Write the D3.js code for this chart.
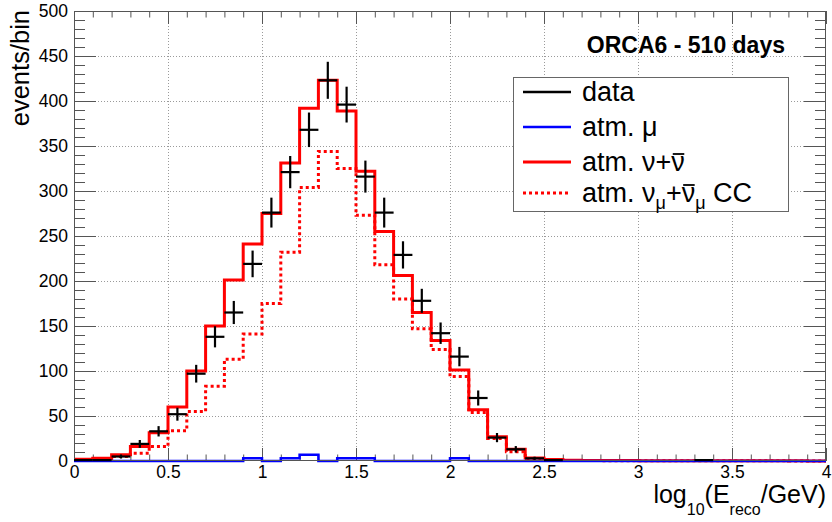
<!DOCTYPE html>
<html><head><meta charset="utf-8">
<script src="https://cdn.jsdelivr.net/npm/d3@7/dist/d3.min.js"></script>
<style>
body{margin:0;background:#fff}
text{font-family:"Liberation Sans",Arial,Helvetica,sans-serif}
</style>
</head><body>
<svg id="c" width="832" height="522"></svg>
<script>
// ---- data ----
const binEdges = [0,0.1,0.2,0.3,0.4,0.5,0.6,0.7,0.8,0.9,1.0,1.1,1.2,1.3,1.4,1.5,1.6,1.7,1.8,1.9,2.0,
  2.1,2.2,2.3,2.4,2.5,2.6,2.7,2.8,2.9,3.0,3.1,3.2,3.3,3.4,3.5,3.6,3.7,3.8,3.9,4.0];
const nuTotal = [2,3,7,16,31.5,60,100,150,201,241,275,331,392,423,389,322,255,206,165,134,101,57,27,13,3.3,1.7,
  0.8,0.6,0.5,0.5,0.4,0.4,0.3,0.3,0.3,0.2,0.2,0.2,0.2,0.1];
const numuCC = [1.5,2,5,8.5,16,33.7,55,83,113,141,175,232,304,344,325,273,218,180,147,124,94,54,25,10.4,2.6,1,
  0.6,0.5,0.4,0.4,0.3,0.3,0.3,0.2,0.2,0.2,0.2,0.2,0.1,0.1];
const atmMu = [0,0,0,0,0,0,0,0,0,3,0,3,7,0,3,3,0,0,0,0,3,0,0,0,0,0,0,0,0,0,0,0,0,0,0,0,0,0,0,0];
const dataCounts = [1,1,5,19,33,52,97,138,165,219,276,321,368,423,396,316,276,229,178,142,116,70,26,13,3,1,
  0,0,0,0,0,0,0,1,0,0,0,0,0,0];
const xMajorTicks = [0,0.5,1,1.5,2,2.5,3,3.5,4];
const xTickLabels = ["0","0.5","1","1.5","2","2.5","3","3.5","4"];
const yMajorTicks = [0,50,100,150,200,250,300,350,400,450,500];
const legendLabels = ["data","atm. μ","atm. ν+ν","CC"];

// ---- layout ----
const svg = d3.select("#c");
const L=74, R=826, T=11, B=461;
const x = d3.scaleLinear().domain([0,4]).range([L,R]);
const y = d3.scaleLinear().domain([0,500]).range([B,T]);
const axisCol = "#555";

// grid
const grid = svg.append("g").attr("stroke","#9a9a9a").attr("stroke-width",1).attr("stroke-dasharray","1,2");
xMajorTicks.slice(1,-1).forEach(v=>grid.append("line").attr("x1",Math.round(x(v))+0.5).attr("x2",Math.round(x(v))+0.5).attr("y1",T).attr("y2",B));
yMajorTicks.slice(1,-1).forEach(v=>grid.append("line").attr("y1",Math.round(y(v))+0.5).attr("y2",Math.round(y(v))+0.5).attr("x1",L).attr("x2",R));

// minor tick values
const xMinor = binEdges.filter((d,i)=>i%5!==0);
const yMinor = [];
yMajorTicks.slice(0,-1).forEach(v=>{[10,20,30,40].forEach(o=>yMinor.push(v+o));});

function styleAxis(g){g.selectAll("path").remove();g.selectAll("line").attr("stroke",axisCol);g.selectAll("text").attr("fill","#000");}

// bottom axis
svg.append("g").attr("transform",`translate(0,${B})`)
  .call(d3.axisBottom(x).tickValues(xMajorTicks).tickFormat((d,i)=>xTickLabels[i]).tickSize(-13).tickPadding(5))
  .call(styleAxis).selectAll("text").attr("font-size",17.5).attr("font-family","Liberation Sans, Arial, sans-serif");
svg.append("g").attr("transform",`translate(0,${B})`).call(d3.axisBottom(x).tickValues(xMinor).tickFormat("").tickSize(-6.5)).call(styleAxis);
// top axis
svg.append("g").attr("transform",`translate(0,${T})`).call(d3.axisTop(x).tickValues(xMajorTicks).tickFormat("").tickSize(-13)).call(styleAxis);
svg.append("g").attr("transform",`translate(0,${T})`).call(d3.axisTop(x).tickValues(xMinor).tickFormat("").tickSize(-6.5)).call(styleAxis);
// left axis
svg.append("g").attr("transform",`translate(${L},0)`)
  .call(d3.axisLeft(y).tickValues(yMajorTicks).tickSize(-22).tickPadding(6)).call(styleAxis)
  .selectAll("text").attr("font-size",17.5).attr("font-family","Liberation Sans, Arial, sans-serif");
svg.append("g").attr("transform",`translate(${L},0)`).call(d3.axisLeft(y).tickValues(yMinor).tickFormat("").tickSize(-11)).call(styleAxis);
// right axis
svg.append("g").attr("transform",`translate(${R},0)`).call(d3.axisRight(y).tickValues(yMajorTicks).tickFormat("").tickSize(-22)).call(styleAxis);
svg.append("g").attr("transform",`translate(${R},0)`).call(d3.axisRight(y).tickValues(yMinor).tickFormat("").tickSize(-11)).call(styleAxis);

// histograms
function stepPath(vals){
  let p = `M${x(binEdges[0])},${y(vals[0])}`;
  vals.forEach((v,i)=>{ if(i>0) p += `V${y(v)}`; p += `H${x(binEdges[i+1])}`; });
  return p;
}
svg.append("path").attr("d",stepPath(nuTotal)).attr("fill","none").attr("stroke","#ff0000").attr("stroke-width",3);
svg.append("path").attr("d",stepPath(numuCC)).attr("fill","none").attr("stroke","#ff0000").attr("stroke-width",3).attr("stroke-dasharray","3,3");
svg.append("path").attr("d",stepPath(atmMu)).attr("fill","none").attr("stroke","#0000ff").attr("stroke-width",2.5);

// frame
svg.append("rect").attr("x",L+0.5).attr("y",T+0.5).attr("width",R-L-1).attr("height",B-T-1).attr("fill","none").attr("stroke",axisCol).attr("stroke-width",1);

// data crosses
const gd = svg.append("g").attr("stroke","#000").attr("stroke-width",2.2);
dataCounts.forEach((n,i)=>{
  if(n<=0) return;
  const x0=x(binEdges[i]), x1=x(binEdges[i+1]), xc=(x0+x1)/2, e=Math.sqrt(n);
  gd.append("line").attr("x1",x0).attr("x2",x1).attr("y1",y(n)).attr("y2",y(n));
  gd.append("line").attr("x1",xc).attr("x2",xc).attr("y1",y(n+e)).attr("y2",y(Math.max(0,n-e)));
});

// title
svg.append("text").attr("x",785).attr("y",53).attr("text-anchor","end").attr("font-size",23).attr("font-weight","bold").text("ORCA6 - 510 days");

// legend
const lg = svg.append("g");
lg.append("rect").attr("x",513.5).attr("y",77.5).attr("width",275).attr("height",134).attr("fill","#fff").attr("stroke","#666").attr("stroke-width",1);
const rows = [92,127,162,193];
const lstyles = [{c:"#000",w:2.5,d:null},{c:"#0000ff",w:2.5,d:null},{c:"#ff0000",w:3,d:null},{c:"#ff0000",w:3,d:"3,3"}];
rows.forEach((ry,i)=>{
  const ln = lg.append("line").attr("x1",523).attr("x2",571).attr("y1",ry).attr("y2",ry).attr("stroke",lstyles[i].c).attr("stroke-width",lstyles[i].w);
  if(lstyles[i].d) ln.attr("stroke-dasharray",lstyles[i].d);
});
const fs=27;
const texts = [];
rows.slice(0,3).forEach((ry,i)=>{
  texts.push(lg.append("text").attr("x",582).attr("y",ry+8.5).attr("font-size",fs).text(legendLabels[i]));
});
const t4 = lg.append("text").attr("x",582).attr("y",rows[3]+8.5).attr("font-size",fs);
t4.append("tspan").text("atm. ν");
t4.append("tspan").attr("font-size",18).attr("dy",7).text("μ");
t4.append("tspan").attr("dy",-7).text("+ν");
t4.append("tspan").attr("font-size",18).attr("dy",7).text("μ");
t4.append("tspan").attr("dy",-7).text(" " + legendLabels[3]);
// anti-neutrino bars
function bar(textSel, idx, baseY){
  const node = textSel.node();
  const s = node.getStartPositionOfChar(idx), e = node.getEndPositionOfChar(idx);
  lg.append("line").attr("x1",s.x+1.5).attr("x2",e.x-0.5).attr("y1",baseY-16.5).attr("y2",baseY-16.5)
    .attr("stroke","#000").attr("stroke-width",1.8);
}
bar(texts[2], 7, rows[2]+8.5);
bar(t4, 8, rows[3]+8.5);

// axis titles
svg.append("text").attr("transform","translate(29,10) rotate(-90)").attr("text-anchor","end").attr("font-size",25.5).text("events/bin");
const xt = svg.append("text").attr("x",826).attr("y",503).attr("text-anchor","end").attr("font-size",25);
xt.append("tspan").text("log");
xt.append("tspan").attr("font-size",16).attr("dy",12).text("10");
xt.append("tspan").attr("dy",-12).text("(E");
xt.append("tspan").attr("font-size",16).attr("dy",12).text("reco");
xt.append("tspan").attr("dy",-12).text("/GeV)");
</script>
</body></html>
